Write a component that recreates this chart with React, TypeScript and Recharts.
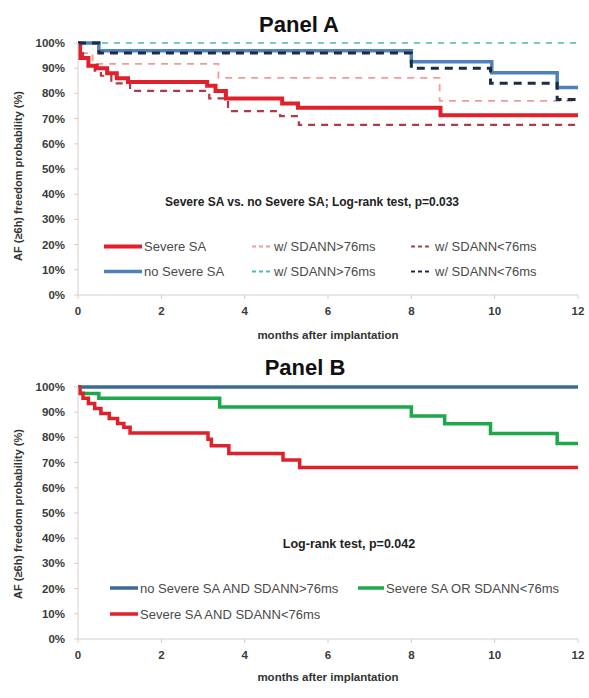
import React from 'react';
import { LineChart, Line, XAxis, YAxis } from 'recharts';

// x axis and y axis ticks
const monthTicks = [0, 2, 4, 6, 8, 10, 12];
const pctTicks = [0, 10, 20, 30, 40, 50, 60, 70, 80, 90, 100];

// Panel A - Kaplan-Meier steps (months, % free of AF)
const monthsSevereA = [0, 0.05, 0.25, 0.45, 0.7, 0.93, 1.2, 3.1, 3.3, 3.55, 4.9, 5.28, 8.7, 12];
const survSevereA = [100, 94, 91, 90, 88, 86, 84.5, 83, 81, 78, 76, 74.3, 71.3, 71.3];

const monthsNoSevereA = [0, 0.5, 8.0, 9.93, 11.5, 12];
const survNoSevereA = [100, 96.9, 92.6, 88.2, 82.3, 82.3];

const monthsSevereHighA = [0, 0.1, 0.35, 3.37, 8.68, 12];
const survSevereHighA = [100, 96, 91.7, 86.2, 77, 77];

const monthsSevereLowA = [0, 0.04, 0.12, 0.25, 0.4, 0.55, 0.8, 1.25, 3.15, 3.6, 4.85, 5.3, 12];
const survSevereLowA = [100, 96, 93.5, 91, 89, 87, 84, 81, 78, 73, 71, 67.5, 67.5];

const monthsNoSevereHighA = [0, 12];
const survNoSevereHighA = [100, 100];

const monthsNoSevereLowA = [0, 0.5, 8.0, 9.9, 11.5, 12];
const survNoSevereLowA = [100, 96, 90, 84, 77.6, 77.6];

// Panel B
const monthsGroup1B = [0, 12];
const survGroup1B = [100, 100];

const monthsGroup2B = [0, 0.05, 0.5, 3.4, 8.0, 8.8, 9.9, 11.5, 12];
const survGroup2B = [100, 97.4, 95.5, 92.1, 88.5, 85.4, 81.5, 77.6, 77.6];

const monthsGroup3B = [0, 0.04, 0.12, 0.25, 0.4, 0.55, 0.75, 0.95, 1.1, 1.25, 3.12, 3.2, 3.62, 4.92, 5.32, 12];
const survGroup3B = [100, 97.5, 95.5, 93.5, 91.5, 89.5, 87.5, 85.5, 84, 81.7, 79.3, 76.7, 73.6, 71, 68.1, 68.1];

const FONT = '"Liberation Sans", Arial, sans-serif';

interface Series {
  key: string;
  months: number[];
  surv: number[];
  color: string;
  width: number;
  dash?: string;
}

const toPoints = (months: number[], surv: number[]) =>
  months.map((m, i) => ({ x: m, y: surv[i] }));

const seriesA: Series[] = [
  { key: 'sevHigh', months: monthsSevereHighA, surv: survSevereHighA, color: '#f29a9a', width: 1.8, dash: '7 6' },
  { key: 'sevLow', months: monthsSevereLowA, surv: survSevereLowA, color: '#b23a48', width: 2.2, dash: '7 6' },
  { key: 'noSevHigh', months: monthsNoSevereHighA, surv: survNoSevereHighA, color: '#45bfae', width: 1.6, dash: '6 6' },
  { key: 'severe', months: monthsSevereA, surv: survSevereA, color: '#e0202a', width: 4 },
  { key: 'noSevere', months: monthsNoSevereA, surv: survNoSevereA, color: '#4f81bd', width: 3.5 },
  { key: 'noSevLow', months: monthsNoSevereLowA, surv: survNoSevereLowA, color: '#1f2a44', width: 3, dash: '8 6' },
];

const seriesB: Series[] = [
  { key: 'g1', months: monthsGroup1B, surv: survGroup1B, color: '#3b6a94', width: 3.5 },
  { key: 'g2', months: monthsGroup2B, surv: survGroup2B, color: '#1fa84a', width: 3.5 },
  { key: 'g3', months: monthsGroup3B, surv: survGroup3B, color: '#e0202a', width: 3.5 },
];

const tickStyle = { fill: '#3a3a3a', fontSize: 11.5, fontWeight: 700, fontFamily: FONT };

const Panel = ({ series, top }: { series: Series[]; top: number }) => (
  <div style={{ position: 'absolute', left: 0, top }}>
    <LineChart width={589} height={330} margin={{ top: 43, right: 11, left: 0, bottom: 0 }}>
      <XAxis
        type="number"
        dataKey="x"
        domain={[0, 12]}
        ticks={monthTicks}
        height={35}
        tickSize={4}
        tickMargin={8}
        stroke="#d0d0d0"
        tick={tickStyle}
        allowDuplicatedCategory={false}
      />
      <YAxis
        type="number"
        dataKey="y"
        domain={[0, 100]}
        ticks={pctTicks}
        width={78}
        tickSize={4}
        tickMargin={9}
        stroke="#d0d0d0"
        tick={tickStyle}
        tickFormatter={(v) => `${v}%`}
      />
      {series.map((s) => (
        <Line
          key={s.key}
          data={toPoints(s.months, s.surv)}
          dataKey="y"
          type="stepAfter"
          stroke={s.color}
          strokeWidth={s.width}
          strokeDasharray={s.dash}
          dot={false}
          activeDot={false}
          isAnimationActive={false}
        />
      ))}
    </LineChart>
  </div>
);

const legendText = { fontSize: 13, fill: '#4a4a4a', fontFamily: FONT };

export default function App() {
  return (
    <div
      style={{
        position: 'absolute',
        left: 0,
        top: 0,
        width: 589,
        height: 698,
        background: '#fff',
        overflow: 'hidden',
      }}
    >
      <Panel series={seriesA} top={0} />
      <Panel series={seriesB} top={344} />

      <svg
        width={589}
        height={698}
        style={{ position: 'absolute', left: 0, top: 0, pointerEvents: 'none' }}
      >
        {/* titles */}
        <text x={299} y={32} textAnchor="middle" fontSize={22} fontWeight={700} fontFamily={FONT} fill="#111">
          Panel A
        </text>
        <text x={305} y={375} textAnchor="middle" fontSize={22} fontWeight={700} fontFamily={FONT} fill="#111">
          Panel B
        </text>

        {/* axis titles */}
        <text x={328} y={339} textAnchor="middle" fontSize={11.5} fontWeight={700} fontFamily={FONT} fill="#333">
          months after implantation
        </text>
        <text x={328} y={681} textAnchor="middle" fontSize={11.5} fontWeight={700} fontFamily={FONT} fill="#333">
          months after implantation
        </text>
        <text
          x={22}
          y={176}
          transform="rotate(-90 22 176)"
          textAnchor="middle"
          fontSize={11}
          fontWeight={700}
          fontFamily={FONT}
          fill="#333"
        >
          AF (≥6h) freedom probability (%)
        </text>
        <text
          x={22}
          y={514}
          transform="rotate(-90 22 514)"
          textAnchor="middle"
          fontSize={11}
          fontWeight={700}
          fontFamily={FONT}
          fill="#333"
        >
          AF (≥6h) freedom probability (%)
        </text>

        {/* annotations */}
        <text x={312} y={206} textAnchor="middle" fontSize={12} fontWeight={700} fontFamily={FONT} fill="#222">
          Severe SA vs. no Severe SA; Log-rank test, p=0.033
        </text>
        <text x={349} y={548} textAnchor="middle" fontSize={12.5} fontWeight={700} fontFamily={FONT} fill="#222">
          Log-rank test, p=0.042
        </text>

        {/* legend panel A */}
        <line x1={104} y1={246.5} x2={142} y2={246.5} stroke="#e0202a" strokeWidth={4} />
        <text x={144} y={251} {...legendText}>Severe SA</text>
        <line x1={252} y1={246.5} x2={272} y2={246.5} stroke="#f29a9a" strokeWidth={1.8} strokeDasharray="4 3" />
        <text x={274} y={251} {...legendText}>w/ SDANN&gt;76ms</text>
        <line x1={411} y1={246.5} x2={432} y2={246.5} stroke="#b23a48" strokeWidth={2.2} strokeDasharray="4 3" />
        <text x={435} y={251} {...legendText}>w/ SDANN&lt;76ms</text>

        <line x1={104} y1={271.5} x2={142} y2={271.5} stroke="#4f81bd" strokeWidth={3.5} />
        <text x={144} y={276} {...legendText}>no Severe SA</text>
        <line x1={252} y1={271.5} x2={272} y2={271.5} stroke="#45bfae" strokeWidth={1.8} strokeDasharray="4 3" />
        <text x={274} y={276} {...legendText}>w/ SDANN&gt;76ms</text>
        <line x1={411} y1={271.5} x2={432} y2={271.5} stroke="#1f2a44" strokeWidth={2.2} strokeDasharray="4 3" />
        <text x={435} y={276} {...legendText}>w/ SDANN&lt;76ms</text>

        {/* legend panel B */}
        <line x1={110} y1={588} x2={138} y2={588} stroke="#3b6a94" strokeWidth={3.5} />
        <text x={140} y={592.5} {...legendText}>no Severe SA AND SDANN&gt;76ms</text>
        <line x1={358} y1={588} x2={384} y2={588} stroke="#1fa84a" strokeWidth={3.5} />
        <text x={386} y={592.5} {...legendText}>Severe SA OR SDANN&lt;76ms</text>
        <line x1={110} y1={614} x2={138} y2={614} stroke="#e0202a" strokeWidth={3.5} />
        <text x={140} y={618.5} {...legendText}>Severe SA AND SDANN&lt;76ms</text>
      </svg>
    </div>
  );
}
